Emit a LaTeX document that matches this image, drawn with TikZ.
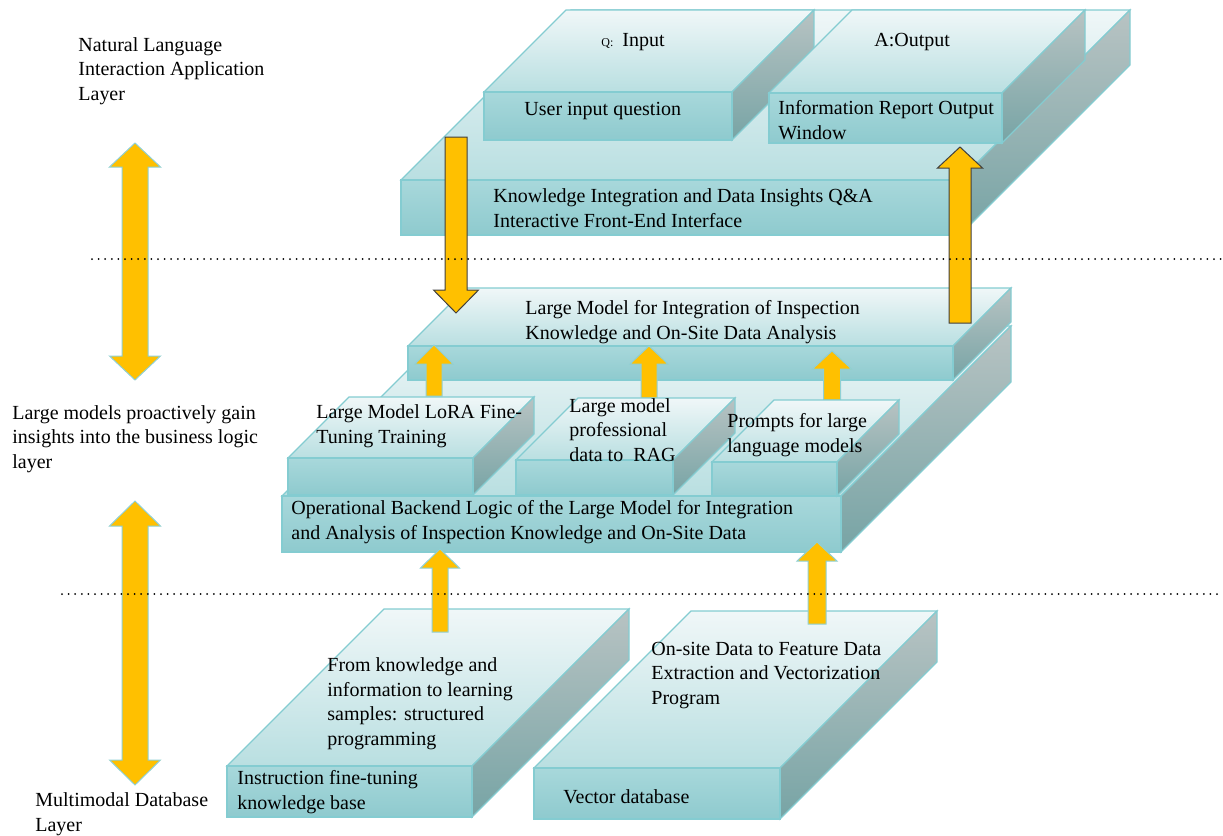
\documentclass[tikz,border=0pt]{standalone}
\usepackage{fontspec}
\setmainfont{Liberation Serif}
\definecolor{edgec}{HTML}{84CCD1}
\definecolor{topA}{HTML}{F0F7F8}
\definecolor{topB}{HTML}{B9DFE1}
\definecolor{frontA}{HTML}{A8D8DB}
\definecolor{frontB}{HTML}{8ECACE}
\definecolor{sideA}{HTML}{B8C3C3}
\definecolor{sideB}{HTML}{77A4A5}
\definecolor{arrowfill}{HTML}{FFC000}
\definecolor{arrowdark}{HTML}{404040}
\definecolor{arrowlight}{HTML}{8FD0D4}

% A slab seen from the front-left: top face, right side face, front face.
% Arguments: x1, y1 (front top-left), x2, y2 (front bottom-right), depth.
\newcommand{\cuboidbox}[5]{%
  \path[topface] (#1,#2) -- ({#1+#5},{#2-#5}) -- ({#3+#5},{#2-#5}) -- (#3,#2) -- cycle;
  \path[sideface] (#3,#2) -- ({#3+#5},{#2-#5}) -- ({#3+#5},{#4-#5}) -- (#3,#4) -- cycle;
  \path[frontface] (#1,#2) rectangle (#3,#4);
}
% Block arrow: style, centre x, tip y, head base y, tail y, half shaft, half head.
\newcommand{\blockarrow}[7]{%
  \path[#1] ({#2-#6},#5) -- ({#2-#6},#4) -- ({#2-#7},#4) -- (#2,#3)
    -- ({#2+#7},#4) -- ({#2+#6},#4) -- ({#2+#6},#5) -- cycle;
}
% Double-headed block arrow: centre x, tip 1, base 1, base 2, tip 2, half shaft, half head.
\newcommand{\twowayarrow}[7]{%
  \path[arrowsoft] ({#1-#6},#3) -- ({#1-#7},#3) -- (#1,#2) -- ({#1+#7},#3)
    -- ({#1+#6},#3) -- ({#1+#6},#4) -- ({#1+#7},#4) -- (#1,#5)
    -- ({#1-#7},#4) -- ({#1-#6},#4) -- cycle;
}

\begin{document}
\begin{tikzpicture}[x=0.5pt,y=-0.5pt,
  edge/.style={draw=edgec, line width=0.6pt, line join=miter},
  topface/.style={edge, top color=topA, bottom color=topB},
  sideface/.style={edge, top color=sideA, bottom color=sideB},
  frontface/.style={edge, top color=frontA, bottom color=frontB},
  arrowhard/.style={fill=arrowfill, draw=arrowdark, line width=0.5pt},
  arrowsoft/.style={fill=arrowfill, draw=arrowlight, line width=0.5pt},
  % labels are placed by the baseline of their last line
  lbl/.style={anchor=base west, inner sep=0pt, align=left,
    font=\fontsize{10}{12.2}\selectfont, text=black},
  divider/.style={line width=1pt, line cap=round, dash pattern=on 0pt off 3.3pt}
]
\useasboundingbox (0,0) rectangle (1223,836);

% ---- application layer: front-end platform with input and output windows
\cuboidbox{401}{180}{960}{235}{170}
\cuboidbox{484}{92}{732}{140}{82}
\cuboidbox{769}{93}{1002}{143}{83}

% ---- business logic layer
\cuboidbox{282}{496}{841}{552}{170}
\cuboidbox{408}{346}{953}{380}{58}
\blockarrow{arrowsoft}{434}{345}{364}{396}{8}{19}
\blockarrow{arrowsoft}{649}{346}{364}{398}{8}{19}
\blockarrow{arrowsoft}{832}{351}{369}{400}{8.5}{19.5}
\cuboidbox{288}{458}{473}{495}{61}
\cuboidbox{516}{460}{673}{495}{62}
\cuboidbox{712}{462}{837}{496}{62}

% ---- database layer
\cuboidbox{227}{766}{472}{817}{157}
\cuboidbox{534}{768}{780}{819}{157}

% ---- labels
\node[lbl] (appL) at (78,100) {Natural Language\\Interaction Application\\Layer};
\node[lbl] (logicL) at (12,468) {Large models proactively gain\\insights into the business logic\\layer};
\node[lbl] (dbL) at (35,831) {Multimodal Database\\Layer};

\node[lbl] (qin) at (601,46) {{\fontsize{6}{7}\selectfont Q:}\hspace{4.5pt}Input};
\node[lbl] (aout) at (874,46) {A:Output};
\node[lbl] (user) at (524,115) {User input question};
\node[lbl] (report) at (778,139) {Information Report Output\\Window};
\node[lbl] (front) at (493,227) {Knowledge Integration and Data Insights Q\&A\\Interactive Front-End Interface};

\node[lbl] (lmodel) at (525,339) {Large Model for Integration of Inspection\\Knowledge and On-Site Data Analysis};
\node[lbl] (lora) at (316,443) {Large Model LoRA Fine-\\Tuning Training};
\node[lbl] (rag) at (569,461) {Large model\\professional\\data to~ RAG};
\node[lbl] (prompt) at (727,452) {Prompts for large\\language models};
\node[lbl] (backend) at (291,539) {Operational Backend Logic of the Large Model for Integration\\and Analysis of Inspection Knowledge and On-Site Data};

\node[lbl] (struct) at (327,745) {From knowledge and\\information to learning\\samples: structured\\programming};
\node[lbl] (instr) at (237,809) {Instruction fine-tuning\\knowledge base};
\node[lbl] (vecprog) at (651,704) {On-site Data to Feature Data\\Extraction and Vectorization\\Program};
\node[lbl] (vecdb) at (563,803) {Vector database};

% ---- data flow arrows
\blockarrow{arrowhard}{456}{313}{290}{137}{11}{22.5}
\blockarrow{arrowhard}{960}{147}{168}{323}{11}{22.5}
\blockarrow{arrowsoft}{440}{549}{568}{632}{8}{19.5}
\blockarrow{arrowsoft}{817}{542}{561}{624}{9}{20}
\twowayarrow{135}{143}{167}{356}{380}{13}{25.5}
\twowayarrow{135}{501}{526}{760}{785}{13}{25.5}

% ---- layer dividers
\draw[divider] (92,259) -- (1223,259);
\draw[divider] (62,594) -- (1223,594);
\end{tikzpicture}
\end{document}
